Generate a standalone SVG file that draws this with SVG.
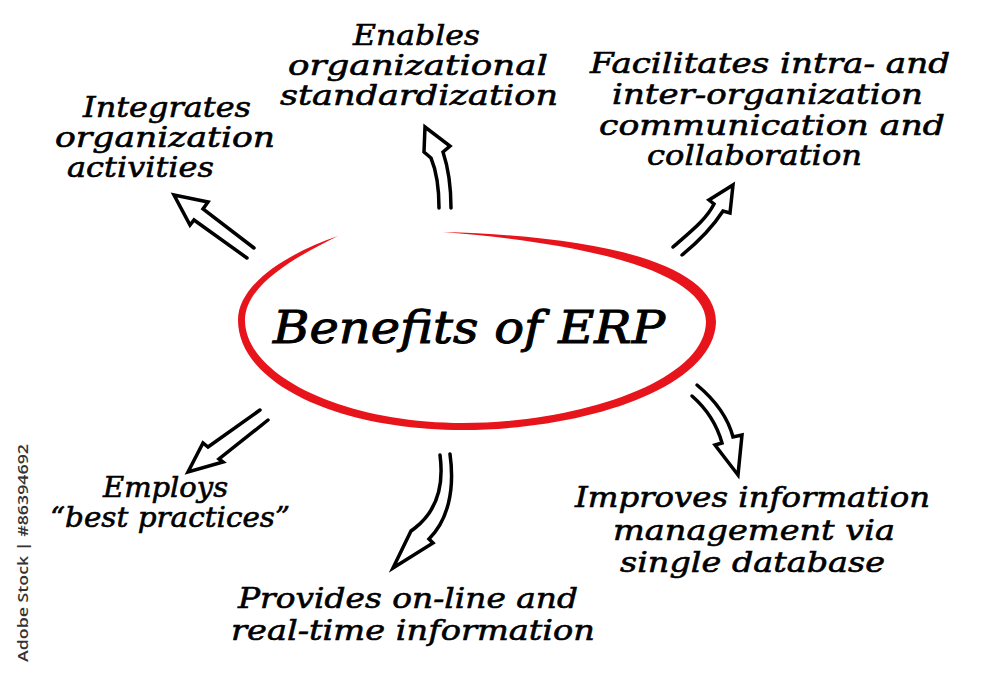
<svg xmlns="http://www.w3.org/2000/svg" width="1000" height="674" viewBox="0 0 1000 674">
  <style>
    .lbl { font-family: "DejaVu Serif", "Liberation Serif", serif; font-style: italic; font-size: 28px; fill: #000; stroke: #000; stroke-width: 0.6; }
    .title { font-family: "DejaVu Serif", "Liberation Serif", serif; font-style: italic; font-size: 45px; fill: #000; stroke: #000; stroke-width: 1; }
    .arrow { fill: #fff; stroke: #000; stroke-width: 3.5; stroke-linejoin: miter; stroke-linecap: round; }
    .wm { font-family: "Open Sans", "DejaVu Sans", sans-serif; font-size: 15px; font-weight: 600; fill: #333; }
  </style>
  <rect width="1000" height="674" fill="#fff"/>

  <g id="center">
    <path d="M 443,232 C 592,236 716,261 716,322 C 714,389 582,430 463,430 C 337,430 238,383 238,320 C 238,284 288,253 338,236 C 293,258 245,286 245,320 C 245,375 342,423 463,423 C 577,423 705,382 706,322 C 706,272 588,243 443,232 Z" fill="#e8141b"/>
    <text class="title" x="273" y="343" textLength="392" lengthAdjust="spacingAndGlyphs">Benefits of ERP</text>
  </g>

  <g id="connectors">
    <path class="arrow" d="M 254,248 L 203,209 L 208,202 L 174,195 L 190,225 L 194,220 L 247,258"/>
    <path class="arrow" d="M 439,208 C 439,185 436,170 431,158 L 424,152 L 425,127 L 450,146 L 443,152 C 448,167 451,185 451,208"/>
    <path class="arrow" d="M 673,247 C 690,232 706,220 714,204 L 709,200 L 733,185 L 730,213 L 723,211 C 712,228 698,242 682,255"/>
    <path class="arrow" d="M 260,410 L 208,447 L 203,443 L 188,472 L 223,462 L 219,459 L 268,420"/>
    <path class="arrow" d="M 440,455 C 444,485 438,510 415,528 L 411,531 L 393,568 L 433,543 L 429,539 C 448,520 455,490 450,454"/>
    <path class="arrow" d="M 697,385 C 715,400 728,418 733,437 L 742,435 L 738,475 L 715,445 L 722,443 C 717,425 708,410 692,396"/>
  </g>

  <g id="integrates">
    <text class="lbl" x="83" y="117" textLength="168" lengthAdjust="spacingAndGlyphs">Integrates</text>
    <text class="lbl" x="55" y="147" textLength="220" lengthAdjust="spacingAndGlyphs">organization</text>
    <text class="lbl" x="67" y="177" textLength="147" lengthAdjust="spacingAndGlyphs">activities</text>
  </g>

  <g id="enables">
    <text class="lbl" x="353" y="45" textLength="127" lengthAdjust="spacingAndGlyphs">Enables</text>
    <text class="lbl" x="288" y="75" textLength="260" lengthAdjust="spacingAndGlyphs">organizational</text>
    <text class="lbl" x="280" y="105" textLength="278" lengthAdjust="spacingAndGlyphs">standardization</text>
  </g>

  <g id="facilitates">
    <text class="lbl" x="590" y="73" textLength="360" lengthAdjust="spacingAndGlyphs">Facilitates intra- and</text>
    <text class="lbl" x="612" y="104" textLength="311" lengthAdjust="spacingAndGlyphs">inter-organization</text>
    <text class="lbl" x="599" y="135" textLength="346" lengthAdjust="spacingAndGlyphs">communication and</text>
    <text class="lbl" x="647" y="165" textLength="215" lengthAdjust="spacingAndGlyphs">collaboration</text>
  </g>

  <g id="employs">
    <text class="lbl" x="103" y="497" textLength="125" lengthAdjust="spacingAndGlyphs">Employs</text>
    <text class="lbl" x="50" y="527" textLength="240" lengthAdjust="spacingAndGlyphs">“best practices”</text>
  </g>

  <g id="provides">
    <text class="lbl" x="238" y="608" textLength="340" lengthAdjust="spacingAndGlyphs">Provides on-line and</text>
    <text class="lbl" x="231" y="640" textLength="364" lengthAdjust="spacingAndGlyphs">real-time information</text>
  </g>

  <g id="improves">
    <text class="lbl" x="575" y="507" textLength="355" lengthAdjust="spacingAndGlyphs">Improves information</text>
    <text class="lbl" x="613" y="540" textLength="282" lengthAdjust="spacingAndGlyphs">management via</text>
    <text class="lbl" x="620" y="572" textLength="265" lengthAdjust="spacingAndGlyphs">single database</text>
  </g>

  <g id="watermark">
    <text class="wm" transform="translate(28,662) rotate(-90)" textLength="218" lengthAdjust="spacingAndGlyphs">Adobe Stock | #86394692</text>
  </g>
</svg>
